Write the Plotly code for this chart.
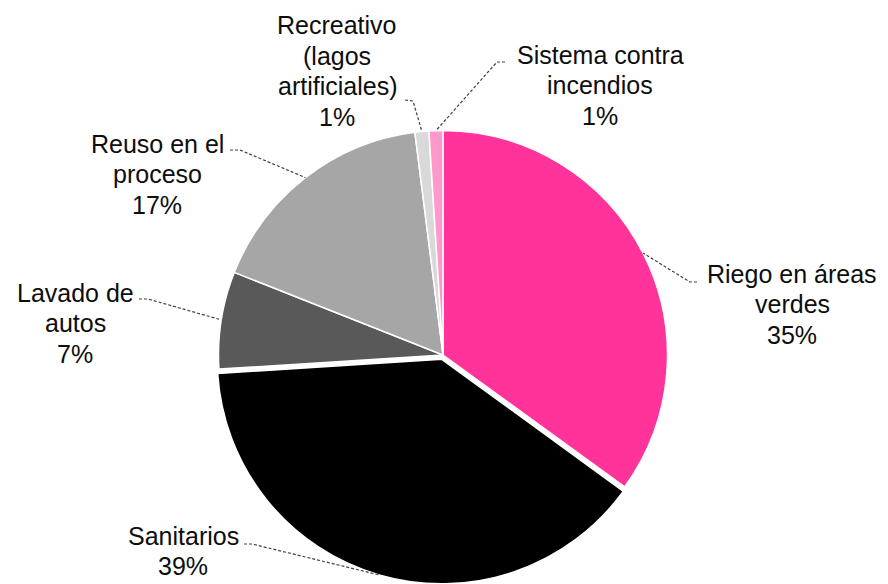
import math
import plotly.graph_objects as go

categories = ["Riego en áreas verdes", "Sanitarios", "Lavado de autos",
              "Reuso en el proceso", "Recreativo (lagos artificiales)",
              "Sistema contra incendios"]
values = [35, 39, 7, 17, 1, 1]
label_lines = [["Riego en áreas", "verdes"], ["Sanitarios"], ["Lavado de", "autos"],
               ["Reuso en el", "proceso"], ["Recreativo", "(lagos", "artificiales)"],
               ["Sistema contra", "incendios"]]
colors = ["#FF3399", "#000000", "#595959", "#A6A6A6", "#D9D9D9", "#FF99CC"]
pulls = [0, 0.02, 0, 0, 0, 0]

W, H = 888, 584
CX, CY = 443, 355          # pie centre in pixels
HALF = 229                 # half of domain size in px
R = HALF / (1 + max(pulls))
LINE = 30.5                # label line spacing in px
FONT = 25

# label block centres (px) and leader starting points (px)
label_pos = [(792, 304), (183, 551), (75, 323), (157, 174), (337, 71), (600, 85)]
leader_start = [((697, 282), (690, 282)), ((244, 544), (252, 544)),
                ((139, 299), (148, 299)), ((230, 150), (240, 150)),
                ((405, 100), (413, 101)), ((505, 62), (497, 62))]

fig = go.Figure(go.Pie(
    labels=categories, values=values, sort=False, direction="clockwise",
    rotation=0, pull=pulls, textinfo="none", hoverinfo="label+percent",
    marker=dict(colors=colors, line=dict(color="white", width=1.5)),
    domain=dict(x=[(CX - HALF) / W, (CX + HALF) / W], y=[0, 2 * HALF / H]),
    showlegend=False,
))

def px2paper(x, y):
    return x / W, 1 - y / H

total = sum(values)
cum = 0
for i, v in enumerate(values):
    mid = (cum + v / 2) / total * 2 * math.pi
    cum += v
    shift = pulls[i] * R
    ax = CX + (R + shift) * math.sin(mid)
    ay = CY - (R + shift) * math.cos(mid)
    (sx, sy), (kx, ky) = leader_start[i]
    pts = [px2paper(sx, sy), px2paper(kx, ky), px2paper(ax, ay)]
    path = "M {} {} L {} {} L {} {}".format(pts[0][0], pts[0][1], pts[1][0], pts[1][1],
                                             pts[2][0], pts[2][1])
    fig.add_shape(type="path", path=path, xref="paper", yref="paper",
                  line=dict(color="#404040", width=1.2, dash="3px,2px"))
    lines = label_lines[i] + [f"{v}%"]
    n = len(lines)
    cx, cy = label_pos[i]
    for k, txt in enumerate(lines):
        ly = cy + (k - (n - 1) / 2) * LINE
        px, py = px2paper(cx, ly)
        fig.add_annotation(x=px, y=py, xref="paper", yref="paper",
                           text=txt, showarrow=False,
                           xanchor="center", yanchor="middle", align="center",
                           font=dict(family="Arial, Liberation Sans", size=FONT, color="#0d0d0d"))

fig.update_layout(width=W, height=H, margin=dict(l=0, r=0, t=0, b=0),
                  paper_bgcolor="white", plot_bgcolor="white")
fig.write_html("out.html", config={"displayModeBar": False},
               post_script="document.body.style.margin='0';document.body.style.overflow='hidden';")
